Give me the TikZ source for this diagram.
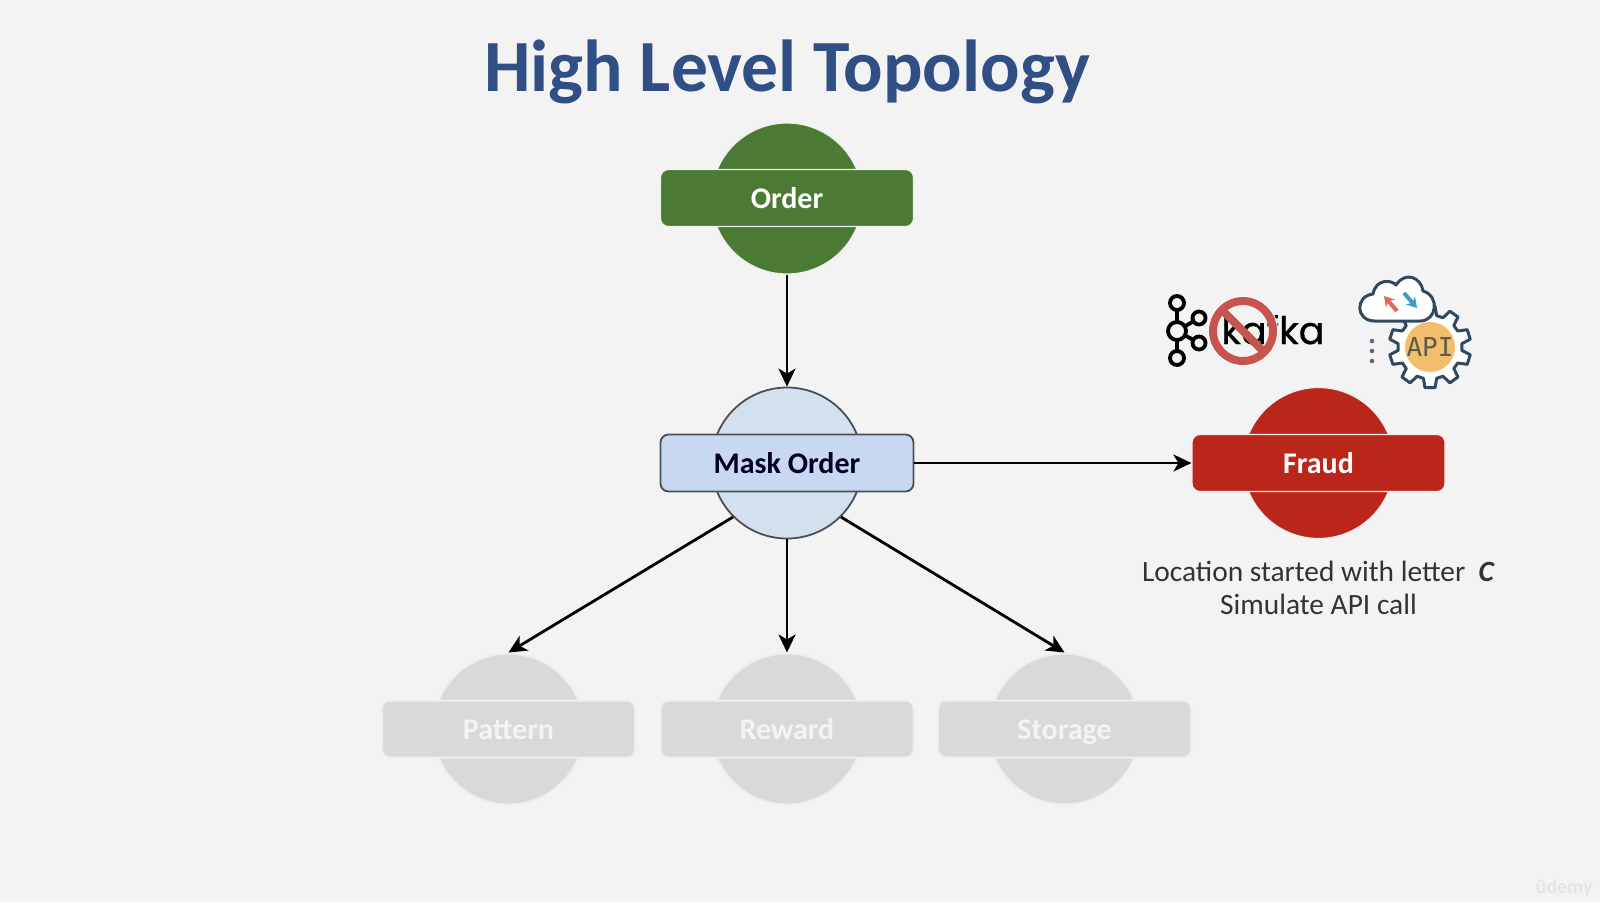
\documentclass[tikz,border=0pt]{standalone}
\usepackage{fontspec}
\setmainfont{Carlito}
\newfontfamily\kafkafont[FakeBold=0.6]{Poppins}
\newfontfamily\apifont{DejaVu Sans Mono}
\usetikzlibrary{arrows.meta}
\definecolor{bg}{HTML}{F3F3F3}
\definecolor{titleblue}{HTML}{2F4F85}
\definecolor{ordergreen}{HTML}{4B7A34}
\definecolor{fraudred}{HTML}{BB261A}
\definecolor{maskcirc}{HTML}{D3E1EE}
\definecolor{maskrect}{HTML}{C9D8F1}
\definecolor{maskline}{HTML}{4A4F57}
\definecolor{greyfill}{HTML}{D9D9D9}
\definecolor{greyline}{HTML}{EEEEEE}
\definecolor{noline}{HTML}{C9534F}
\definecolor{iconline}{HTML}{2F4A60}
\definecolor{apiorange}{HTML}{F2BE6B}
\definecolor{apitextc}{HTML}{5A5A50}
\definecolor{arrowred}{HTML}{E0675A}
\definecolor{arrowblue}{HTML}{3B9BD0}
\tikzset{
  x=0.5pt,y=-0.5pt,
  disc/.style={circle,minimum size=75.5pt,inner sep=0pt,line width=0.6pt},
  bar/.style={rectangle,rounded corners=4pt,minimum width=126.5pt,minimum height=28.5pt,inner sep=0pt,
    line width=0.6pt,text height=13pt,text depth=3pt,font=\fontsize{15}{15}\selectfont\bfseries},
  greendisc/.style={disc,fill=ordergreen,draw=greyline},
  greenbar/.style={bar,fill=ordergreen,draw=greyline,text=white},
  reddisc/.style={disc,fill=fraudred,draw=greyline},
  redbar/.style={bar,fill=fraudred,draw=greyline,text=white},
  bluedisc/.style={disc,fill=maskcirc,draw=maskline,line width=0.9pt},
  bluebar/.style={bar,fill=maskrect,draw=maskline,text=black!85!blue,line width=0.9pt},
  greydisc/.style={disc,fill=greyfill,draw=greyline,line width=1pt},
  greybar/.style={bar,fill=greyfill,draw=greyline,text=bg,line width=1pt},
  conn/.style={line width=1.4pt,black,-{Stealth[length=9pt,width=8.5pt,inset=2.5pt]}},
  iconstroke/.style={draw=iconline,line width=1.5pt,line join=round},
}
\begin{document}
\begin{tikzpicture}
\useasboundingbox[fill=bg] (0,0) rectangle (1600,902);
\node[font=\fontsize{36.8}{36.8}\selectfont\bfseries,text=titleblue] (title) at (787,72) {High Level Topology};
% discs
\node[greendisc] (orderc) at (787,198.5) {};
\node[bluedisc] (maskc) at (787,463) {};
\node[reddisc] (fraudc) at (1318.5,463) {};
\node[greydisc] (patternc) at (508.5,729) {};
\node[greydisc] (rewardc) at (787,729) {};
\node[greydisc] (storagec) at (1064.5,729) {};
% bars
\node[greenbar] (order) at (787,198) {Order};
\node[bluebar] (mask) at (787,463) {Mask Order};
\node[redbar] (fraud) at (1318.5,463) {Fraud};
\node[greybar] (pattern) at (508.5,729) {Pattern};
\node[greybar] (reward) at (787,729) {Reward};
\node[greybar] (storage) at (1064.5,729) {Storage};
% connectors
\draw[conn] (orderc.south) -- (maskc.north);
\draw[conn] (mask.east) -- (fraud.west);
\draw[conn] (maskc.225) -- (patternc.north);
\draw[conn] (maskc.south) -- (rewardc.north);
\draw[conn] (maskc.-45) -- (storagec.north);
% caption
\node[align=center,font=\fontsize{14.7}{16.2}\selectfont,text=black!80] (caption) at (1318.5,588)
  {Location started with letter\ \ \textbf{\textit{C}}\\Simulate API call};
% kafka logo
\begin{scope}[line width=1.9pt]
  \draw (1177,303) -- (1177,358) (1177,331) -- (1199,318) (1177,331) -- (1199,343);
  \draw[fill=bg] (1177,303) circle[radius=7];
  \draw[fill=bg] (1177,331) circle[radius=9];
  \draw[fill=bg] (1177,358) circle[radius=7];
  \draw[fill=bg] (1199,318) circle[radius=6.5];
  \draw[fill=bg] (1199,343) circle[radius=6.5];
\end{scope}
\node[anchor=base west,inner sep=0pt,font=\kafkafont\fontsize{19}{19}\selectfont] (kafkaword) at (1221,344) {kafka};
\draw[white,line width=0.6pt] (1243,331) circle[radius=34.5];
\draw[noline,line width=4pt] (1243,331) circle[radius=30];
\draw[noline,line width=4pt] (1222,310) -- (1264,352);
% API icon
\draw[iconstroke,fill=white] (1430,305)
  \foreach \a in {0,36,...,324}{
    -- ({1430+32*sin(\a-12)},{347-32*cos(\a-12)})
    -- ({1430+41*sin(\a-7)},{347-41*cos(\a-7)})
    -- ({1430+41*sin(\a+7)},{347-41*cos(\a+7)})
    -- ({1430+32*sin(\a+12)},{347-32*cos(\a+12)})
  } -- cycle;
\fill[apiorange] (1430,347) circle[radius=25];
\node[font=\apifont\fontsize{13}{13}\selectfont,text=apitextc] (apitext) at (1430,347) {API};
\draw[iconstroke,fill=white] (1375,321) .. controls (1355,321) and (1355,296) .. (1373,294)
  .. controls (1376,278) and (1392,280) .. (1396,285)
  .. controls (1405,271) and (1421,277) .. (1423,291)
  .. controls (1440,296) and (1437,321) .. (1420,321) -- cycle;
\draw[-{Stealth[length=5pt,width=6pt]},line width=2pt,color=arrowred] (1397,311) -- (1384,296);
\draw[-{Stealth[length=5pt,width=6pt]},line width=2pt,color=arrowblue] (1404,293) -- (1417,308);
\foreach \y in {341,351,361}{\fill[iconline!80] (1372,\y) circle[radius=2.3];}
% watermark
\node[font=\fontsize{10}{10}\selectfont\bfseries,text=black!10] (udemy) at (1564,888) {ûdemy};
\end{tikzpicture}
\end{document}
